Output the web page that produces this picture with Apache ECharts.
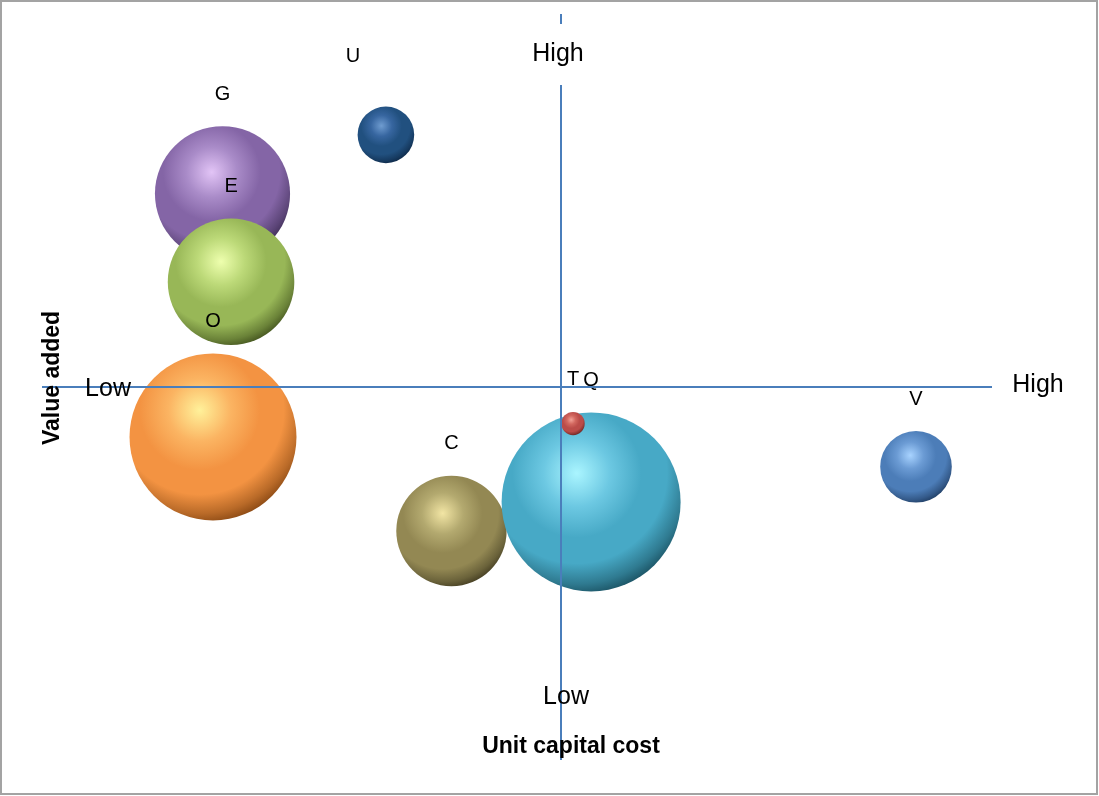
<!DOCTYPE html>
<html>
<head>
<meta charset="utf-8">
<title>Value added vs unit capital cost</title>
<script src="https://cdn.jsdelivr.net/npm/echarts@6/dist/echarts.min.js"></script>
<style>
  html, body { margin: 0; padding: 0; background: #ffffff; }
  #chart { width: 1099px; height: 796px; }
</style>
</head>
<body>
<div id="chart"></div>
<script>
// Bubble data: one bubble per item, in drawing order (later ones sit on top)
const names = ['G', 'E', 'O', 'U', 'C', 'Q', 'T', 'V'];
const unitCost = [19.0, 19.9, 18.0, 36.2, 43.1, 57.8, 55.9, 92.0];
const valueAdded = [75.9, 64.1, 43.3, 83.8, 30.7, 34.6, 45.1, 39.3];
const bubbleSize = [57, 50, 87, 10, 38, 100, 1.7, 16];

// Quadrant dividers and their end labels
const costMid = 54.6;
const valueMid = 50;
const costEndLabels = ['Low', 'High'];
const valueEndLabels = ['Low', 'High'];
const costTitle = 'Unit capital cost';
const valueTitle = 'Value added';

// Sphere shading: [highlight, soft, base, mid shadow, deep shadow]
const palette = [
  ['#e2c4f6', '#a98bc8', '#8465a6', '#5c4578', '#2e2042'],
  ['#eeffae', '#bcd978', '#98b757', '#6a8238', '#323f13'],
  ['#fff19a', '#fbb462', '#f39342', '#b96a28', '#74390a'],
  ['#6f9cd0', '#3766a0', '#21507f', '#163a60', '#0a203b'],
  ['#f2e5a4', '#b3a96f', '#938853', '#6a623a', '#332d17'],
  ['#aaf5ff', '#6cc8e2', '#47a9c6', '#2f7a90', '#113f4d'],
  ['#f2a096', '#d2675f', '#bb4c49', '#8a3533', '#551c1a'],
  ['#a8d3ff', '#6b9bd4', '#4c7db8', '#345a8a', '#183254']
];

function sphere(c) {
  return {
    type: 'radial', x: 0.42, y: 0.34, r: 0.72,
    colorStops: [
      { offset: 0, color: c[0] },
      { offset: 0.26, color: c[1] },
      { offset: 0.5, color: c[2] },
      { offset: 0.7, color: c[2] },
      { offset: 0.86, color: c[3] },
      { offset: 1, color: c[4] }
    ]
  };
}

const FONT = '"Liberation Sans", Arial, sans-serif';
const MAX_DIAMETER = 179;

const points = names.map((n, i) => {
  const item = {
    name: n,
    value: [unitCost[i], valueAdded[i], bubbleSize[i]],
    itemStyle: { color: sphere(palette[i]), opacity: 1 }
  };
  if (n === 'U') item.label = { offset: [-33, -18] };
  return item;
});

const chart = echarts.init(document.getElementById('chart'), null, { renderer: 'canvas' });

chart.setOption({
  backgroundColor: '#ffffff',
  animation: false,
  grid: { left: 42, right: 107, top: 14, bottom: 36 },
  xAxis: {
    type: 'value', min: 0, max: 100,
    axisLine: { show: false }, axisTick: { show: false },
    axisLabel: { show: false }, splitLine: { show: false }
  },
  yAxis: {
    type: 'value', min: 0, max: 100,
    axisLine: { show: false }, axisTick: { show: false },
    axisLabel: { show: false }, splitLine: { show: false }
  },
  series: [{
    type: 'scatter',
    data: points,
    symbolSize: v => MAX_DIAMETER * Math.sqrt(v[2] / 100),
    itemStyle: { opacity: 1 },
    emphasis: { disabled: true },
    label: {
      show: true,
      position: 'top',
      distance: 22,
      formatter: p => p.name,
      color: '#000000',
      opacity: 1,
      fontFamily: FONT,
      fontSize: 20
    },
    markLine: {
      silent: true,
      symbol: 'none',
      label: { show: false },
      lineStyle: { color: '#4a7ebb', width: 2, type: 'solid', opacity: 1 },
      data: [{ xAxis: costMid }, { yAxis: valueMid }]
    }
  }],
  graphic: [
    {
      type: 'rect', z: 1,
      shape: { x: 1, y: 1, width: 1096, height: 793 },
      style: { fill: 'none', stroke: '#a3a3a3', lineWidth: 2 }
    },
    {
      type: 'rect', z: 20,
      shape: { x: 530, y: 24, width: 60, height: 61 },
      style: { fill: '#ffffff' }
    },
    {
      type: 'text', z: 30, x: 558, y: 54,
      style: { text: valueEndLabels[1], font: '25px ' + FONT, fill: '#000', align: 'center', verticalAlign: 'middle' }
    },
    {
      type: 'text', z: 30, x: 566, y: 697,
      style: { text: valueEndLabels[0], font: '25px ' + FONT, fill: '#000', align: 'center', verticalAlign: 'middle' }
    },
    {
      type: 'text', z: 30, x: 108, y: 389,
      style: { text: costEndLabels[0], font: '25px ' + FONT, fill: '#000', align: 'center', verticalAlign: 'middle' }
    },
    {
      type: 'text', z: 30, x: 1038, y: 385,
      style: { text: costEndLabels[1], font: '25px ' + FONT, fill: '#000', align: 'center', verticalAlign: 'middle' }
    },
    {
      type: 'text', z: 30, x: 571, y: 747,
      style: { text: costTitle, font: 'bold 23px ' + FONT, fill: '#000', align: 'center', verticalAlign: 'middle' }
    },
    {
      type: 'text', z: 30, x: 53, y: 378, rotation: Math.PI / 2,
      style: { text: valueTitle, font: 'bold 23px ' + FONT, fill: '#000', align: 'center', verticalAlign: 'middle' }
    }
  ]
});
</script>
</body>
</html>
